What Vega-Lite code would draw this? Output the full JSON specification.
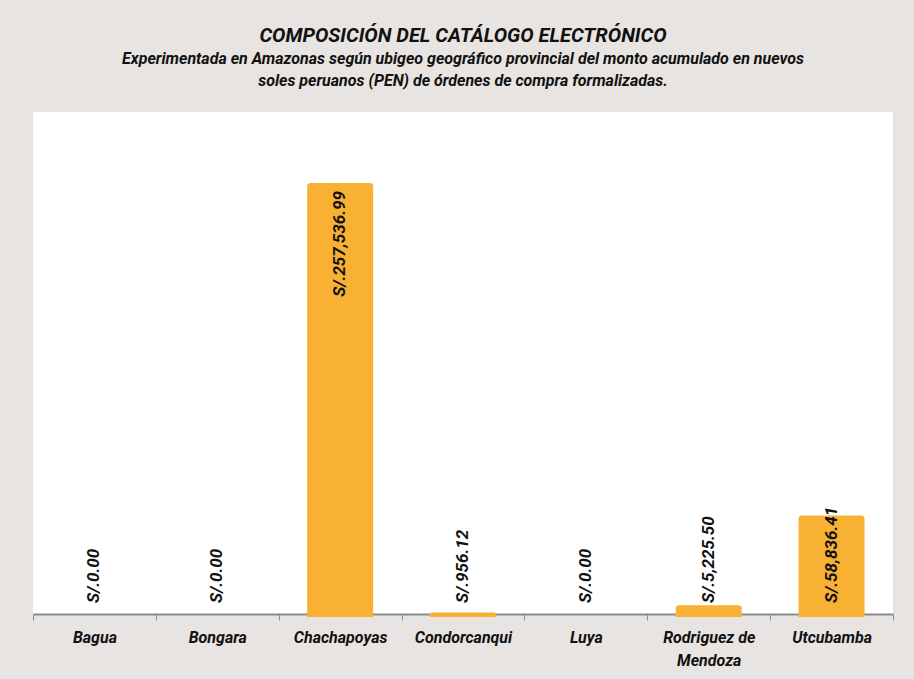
{
  "$schema": "https://vega.github.io/schema/vega-lite/v6.json",
  "width": 860,
  "height": 502,
  "autosize": {"type": "none"},
  "padding": {"left": 33, "top": 112, "right": 21, "bottom": 65},
  "background": "#E8E4E1",
  "title": {
    "text": "COMPOSICIÓN  DEL CATÁLOGO  ELECTRÓNICO",
    "subtitle": ["Experimentada en Amazonas según ubigeo geográfico provincial del monto acumulado en nuevos", "soles peruanos (PEN) de órdenes de compra formalizadas."],
    "anchor": "middle",
    "font": "Roboto",
    "fontSize": 20,
    "fontWeight": "bold",
    "fontStyle": "italic",
    "color": "#111111",
    "subtitleFont": "Roboto",
    "subtitleFontSize": 16,
    "subtitleFontWeight": "bold",
    "subtitleFontStyle": "italic",
    "subtitleColor": "#111111",
    "subtitleLineHeight": 22,
    "subtitlePadding": 5,
    "offset": 23
  },
  "config": {
    "view": {"fill": "white", "stroke": null}
  },
  "data": {
    "values": [
      {"provincia": "Bagua", "monto": 0},
      {"provincia": "Bongara", "monto": 0},
      {"provincia": "Chachapoyas", "monto": 257536.99},
      {"provincia": "Condorcanqui", "monto": 956.12},
      {"provincia": "Luya", "monto": 0},
      {"provincia": "Rodriguez de Mendoza", "monto": 5225.5},
      {"provincia": "Utcubamba", "monto": 58836.41}
    ]
  },
  "transform": [
    {"calculate": "'S/.' + format(datum.monto, ',.2f')", "as": "etiqueta"}
  ],
  "encoding": {
    "x": {
      "field": "provincia",
      "type": "nominal",
      "sort": null,
      "scale": {"domain": ["Bagua", "Bongara", "Chachapoyas", "Condorcanqui", "Luya", "Rodriguez de Mendoza", "Utcubamba"], "paddingInner": 0, "paddingOuter": 0},
      "axis": {
        "title": null,
        "labelAngle": 0,
        "labelFont": "Roboto",
        "labelFontSize": 16,
        "labelFontWeight": "bold",
        "labelFontStyle": "italic",
        "labelColor": "#111111",
        "labelPadding": 9,
        "labelLineHeight": 23,
        "labelExpr": "datum.value == 'Rodriguez de Mendoza' ? ['Rodriguez de', 'Mendoza'] : datum.value",
        "tickBand": "extent",
        "tickColor": "#8C8C8C",
        "tickSize": 6,
        "domainColor": "#8C8C8C",
        "domainWidth": 2
      }
    },
    "y": {
      "field": "monto",
      "type": "quantitative",
      "scale": {"domain": [0, 300000]},
      "axis": null
    }
  },
  "layer": [
    {
      "transform": [{"filter": "datum.monto > 0"}],
      "mark": {"type": "bar", "color": "#F8B133", "cornerRadiusTopLeft": 3, "cornerRadiusTopRight": 3, "width": {"band": 0.537}, "y2Offset": 3},
      "encoding": {
        "y": {"field": "monto", "type": "quantitative", "stack": null, "scale": {"domain": [0, 300000]}, "axis": null},
        "y2": {"datum": 0}
      }
    },
    {
      "transform": [{"filter": "datum.monto > 200000"}],
      "mark": {"type": "text", "angle": -90, "align": "right", "baseline": "middle", "dx": -8, "font": "Roboto", "fontSize": 17, "fontWeight": "bold", "fontStyle": "italic", "color": "#111111"},
      "encoding": {"text": {"field": "etiqueta"}}
    },
    {
      "transform": [{"filter": "datum.monto <= 200000"}],
      "mark": {"type": "text", "angle": -90, "align": "left", "baseline": "middle", "dx": 11, "font": "Roboto", "fontSize": 17, "fontWeight": "bold", "fontStyle": "italic", "color": "#111111"},
      "encoding": {"y": {"datum": 0}, "text": {"field": "etiqueta"}}
    }
  ]
}
